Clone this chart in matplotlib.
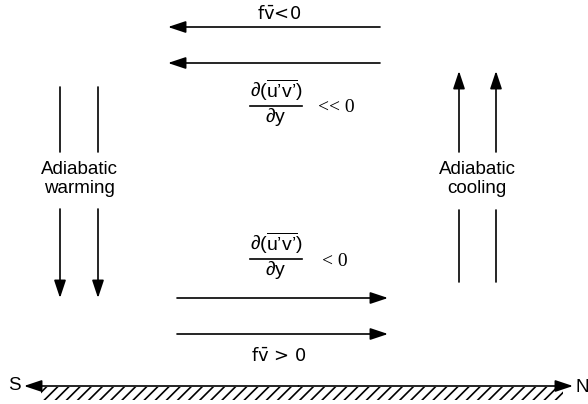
import matplotlib.pyplot as plt
from matplotlib.patches import Rectangle

plt.rcParams['font.family'] = 'Liberation Sans'
plt.rcParams['mathtext.fontset'] = 'custom'
plt.rcParams['mathtext.rm'] = 'Liberation Sans'
plt.rcParams['mathtext.it'] = 'Liberation Sans'
plt.rcParams['mathtext.sf'] = 'Liberation Sans'
plt.rcParams['hatch.linewidth'] = 1.2

# diagram layout in picture units (x right, y down)
# horizontal flow arrows: (y, x_tail, x_head)
upper_flow = [(27, 380, 168), (63, 380, 168)]
lower_flow = [(298, 177, 388), (334, 177, 388)]
# vertical motion: (x, y_start, y_end, with_head)
sinking = [(60, 87, 152, False), (98, 87, 152, False),
           (60, 209, 298, True), (98, 209, 298, True)]
rising = [(459, 152, 71, True), (496, 152, 71, True),
          (459, 210, 282, False), (496, 210, 282, False)]
ground_y = 386
ground_x = (24, 573)
hatch_x = (41, 563)

labels = [
    (279, 14, r'$\mathregular{f\bar{v}}$<0', 'sans-serif', 13),
    (279, 356, r'$\mathregular{f\bar{v}}$ > 0', 'sans-serif', 13),
    (336, 107, '<< 0', 'Liberation Serif', 14),
    (335, 261, '< 0', 'Liberation Serif', 14),
]
side_labels = [(79, 179, 'Adiabatic\nwarming'), (477, 179, 'Adiabatic\ncooling')]
numer = r"$\mathregular{\partial(\overline{u’v’})}$"
denom = r"$\mathregular{\partial y}$"
frac_pos = [(276, 106), (276, 259)]  # centre x, fraction bar y

fig = plt.figure(figsize=(5.88, 4.04), dpi=100)
ax = fig.add_axes([0, 0, 1, 1])
ax.set_xlim(0, 588)
ax.set_ylim(404, 0)
ax.axis('off')

head = dict(arrowstyle='-|>,head_length=0.9,head_width=0.3', color='black',
            lw=1.2, mutation_scale=12, shrinkA=0, shrinkB=0)
line = dict(arrowstyle='-', color='black', lw=1.2, shrinkA=0, shrinkB=0)

for y, x0, x1 in upper_flow + lower_flow:
    ax.annotate('', xy=(x1, y), xytext=(x0, y), arrowprops=head)

for x, y0, y1, h in sinking + rising:
    ax.annotate('', xy=(x, y1), xytext=(x, y0), arrowprops=head if h else line)

# ground with S and N arrows
mid = sum(ground_x) / 2
ax.annotate('', xy=(ground_x[0], ground_y), xytext=(mid, ground_y), arrowprops=head)
ax.annotate('', xy=(ground_x[1], ground_y), xytext=(mid, ground_y), arrowprops=head)
ax.add_patch(Rectangle((hatch_x[0], ground_y + 1), hatch_x[1] - hatch_x[0], 13,
                       fill=False, hatch='///', lw=0, edgecolor='black'))
ax.text(14, ground_y, 'S', fontsize=13.5, ha='center', va='center')
ax.text(582, ground_y + 1, 'N', fontsize=13.5, ha='center', va='center')

for x, y, s, fam, fs in labels:
    ax.text(x, y, s, fontsize=fs, ha='center', va='center', family=fam)
for x, y, s in side_labels:
    ax.text(x, y, s, fontsize=13.5, ha='center', va='center', linespacing=1.15)
for x, y in frac_pos:
    ax.text(x, y - 3, numer, fontsize=14, ha='center', va='bottom')
    ax.plot([x - 26, x + 26], [y, y], color='black', lw=1.2)
    ax.text(x, y + 11, denom, fontsize=14, ha='center', va='center')

fig.savefig('out.png', dpi=100)
